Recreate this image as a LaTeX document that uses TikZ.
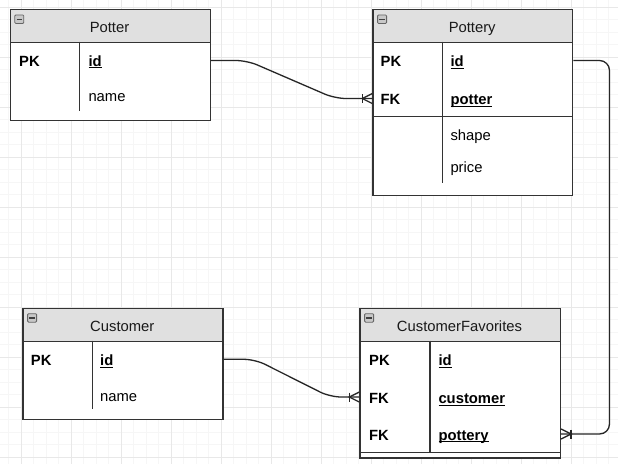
\documentclass[tikz,border=0pt]{standalone}
\usepackage{fontspec}
\setmainfont{Liberation Sans}
\usetikzlibrary{calc}
\definecolor{minorc}{RGB}{246,246,246}
\definecolor{majorc}{RGB}{232,232,232}
\definecolor{hdrc}{RGB}{224,224,224}
\definecolor{edgec}{RGB}{51,51,51}
\definecolor{iconc}{RGB}{200,200,200}
\newcommand\myul[1]{\setbox0\hbox{#1}\rlap{\rule[-2.4pt]{\wd0}{1.1pt}}\box0}
\newcommand\erfoot[2]{%
  \draw[foot] ($(#1)+(#2*10,-4.5)$) -- ($(#1)+(#2*10,4.5)$);
  \draw[foot] ($(#1)+(0,-5)$) -- ($(#1)+(#2*10,0)$) -- ($(#1)+(0,5)$);}
\begin{document}
\begin{tikzpicture}[x=1pt,y=-1pt,
  tbl/.style={draw=edgec, line width=1.4pt, fill=white, rectangle, inner sep=0pt, anchor=north west},
  hdr/.style={draw=edgec, line width=1.4pt, fill=hdrc, rectangle, inner sep=0pt, anchor=north west},
  ttl/.style={anchor=base, inner sep=0pt, font=\fontsize{14.8}{17}\selectfont, text=black!90},
  key/.style={anchor=base west, inner sep=0pt, font=\fontsize{14.8}{17}\selectfont\bfseries},
  fld/.style={anchor=base west, inner sep=0pt, font=\fontsize{14.8}{17}\selectfont},
  sepl/.style={draw=edgec, line width=1.2pt},
  conn/.style={draw=black!85, line width=1.3pt, rounded corners=11pt},
  foot/.style={draw=black!85, line width=1.3pt},
  icon/.style={rectangle, draw=gray!80!black, fill=iconc, line width=0.8pt, rounded corners=1pt,
    minimum width=9pt, minimum height=8.5pt, inner sep=0pt,
    path picture={\draw[black!75, line width=1.3pt] ([xshift=1.8pt]path picture bounding box.west) -- ([xshift=-1.8pt]path picture bounding box.east);}},
]
\useasboundingbox (0,0) rectangle (618,464);
\fill[white] (0,0) rectangle (618,464);
% grid
\foreach \i in {0,...,49} \draw[minorc, line width=0.8pt] (8.5+12.5*\i,0) -- (8.5+12.5*\i,464);
\foreach \i in {0,...,37} \draw[minorc, line width=0.8pt] (0,7.3+12.5*\i) -- (618,7.3+12.5*\i);
\foreach \i in {0,...,12} \draw[majorc, line width=0.9pt] (21+50*\i,0) -- (21+50*\i,464);
\foreach \i in {0,...,9} \draw[majorc, line width=0.9pt] (0,7.3+50*\i) -- (618,7.3+50*\i);

% ---------- Potter ----------
\node[tbl, minimum width=200pt, minimum height=110.5pt] (potter) at (9.5,9) {};
\node[hdr, minimum width=200pt, minimum height=32.7pt] (potterh) at (9.5,9) {};
\node[icon] (potteri) at (19.3,19.2) {};
\node[ttl] (pottert) at (109.5,32.3) {Potter};
\draw[sepl] (79.7,41.7) -- (79.7,110.7);
\node[key] (potterpk) at (19,66) {PK};
\node[fld] (potterid) at (88.3,66) {\myul{\bfseries id}};
\node[fld] (pottername) at (88.3,101.3) {name};

% ---------- Pottery ----------
\node[tbl, minimum width=199.7pt, minimum height=186pt] (pottery) at (372.3,9) {};
\node[hdr, minimum width=199.7pt, minimum height=32.7pt] (potteryh) at (372.3,9) {};
\node[icon] (potteryi) at (382.1,19.2) {};
\node[ttl] (potteryt) at (472.2,32.3) {Pottery};
\draw[sepl] (372.3,116.7) -- (572,116.7);
\draw[sepl] (442.3,41.7) -- (442.3,183.3);
\node[key] (potterypk) at (380.5,66.3) {PK};
\node[key] (potteryfk) at (380.5,104.3) {FK};
\node[fld] (potteryid) at (450.3,66.3) {\myul{\bfseries id}};
\node[fld] (potterypotter) at (450.3,104.3) {\myul{\bfseries potter}};
\node[fld] (potteryshape) at (450.3,140) {shape};
\node[fld] (potteryprice) at (450.3,172) {price};

% ---------- Customer ----------
\node[tbl, minimum width=200pt, minimum height=111pt] (customer) at (22.3,307.7) {};
\node[hdr, minimum width=200pt, minimum height=33pt] (customerh) at (22.3,307.7) {};
\node[icon] (customeri) at (32.1,317.9) {};
\node[ttl] (customert) at (122.3,331) {Customer};
\draw[sepl] (92.3,340.7) -- (92.3,409.3);
\node[key] (customerpk) at (30.7,365.5) {PK};
\node[fld] (customerid) at (100,365.5) {\myul{\bfseries id}};
\node[fld] (customername) at (100,401) {name};

% ---------- CustomerFavorites ----------
\node[tbl, minimum width=200.4pt, minimum height=149.6pt] (cf) at (359.3,307.7) {};
\node[hdr, minimum width=200.4pt, minimum height=33pt] (cfh) at (359.3,307.7) {};
\node[icon] (cfi) at (369.1,317.9) {};
\node[ttl] (cft) at (459.5,331.5) {CustomerFavorites};
\draw[sepl] (359.3,452.7) -- (559.7,452.7);
\draw[sepl] (430,340.7) -- (430,452.7);
\node[key] (cfpk) at (369,365.5) {PK};
\node[key] (cffk1) at (369,403.5) {FK};
\node[key] (cffk2) at (369,440) {FK};
\node[fld] (cfid) at (438.3,365.5) {\myul{\bfseries id}};
\node[fld] (cfcustomer) at (438.3,403.5) {\myul{\bfseries customer}};
\node[fld] (cfpottery) at (438.3,440) {\myul{\bfseries pottery}};

% ---------- connectors ----------
\coordinate (c1a) at (potter.east |- 0,60.5);
\coordinate (c1b) at (pottery.west |- 0,98.5);
\draw[conn] (c1a) -- (247,60.5) -- (335,98.5) -- (c1b);
\erfoot{c1b}{-1}

\coordinate (c2a) at (pottery.east |- 0,60.5);
\coordinate (c2b) at (cf.east |- 0,434);
\draw[conn, rounded corners=10pt] (c2a) -- (609.5,60.5) -- (609.5,434) -- (c2b);
\erfoot{c2b}{1}

\coordinate (c3a) at (customer.east |- 0,359.3);
\coordinate (c3b) at (cf.west |- 0,397);
\draw[conn] (c3a) -- (255,359.3) -- (330,397) -- (c3b);
\erfoot{c3b}{-1}
\end{tikzpicture}
\end{document}
